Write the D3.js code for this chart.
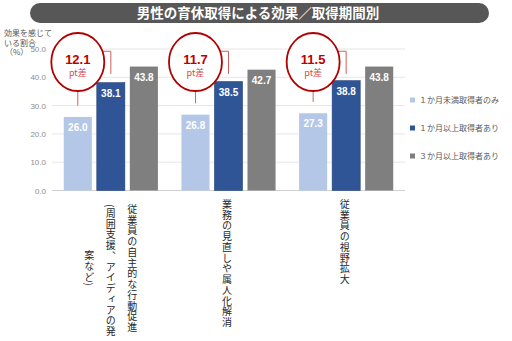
<!DOCTYPE html>
<html>
<head>
<meta charset="utf-8">
<script src="https://cdn.jsdelivr.net/npm/d3@7/dist/d3.min.js"></script>
<style>
  body { margin: 0; background: #fff; }
  svg { display: block; font-family: "Noto Sans CJK JP", sans-serif; }
</style>
</head>
<body>
<div id="chart"></div>
<script>
const title = "男性の育休取得による効果／取得期間別";
const categories = [
    ["従業員の自主的な行動促進", "(周囲支援、アイディアの発", "案など)"],
    ["業務の見直しや属人化解消"],
    ["従業員の視野拡大"]
];
const seriesNames = ["１か月未満取得者のみ", "１か月以上取得者あり", "３か月以上取得者あり"];
const under1m = [26.0, 26.8, 27.3];
const over1m  = [38.1, 38.5, 38.8];
const over3m  = [43.8, 42.7, 43.8];
const yTicks = [0, 10, 20, 30, 40, 50];

const colors = ["#b4c7e7", "#2f5597", "#7f7f7f"];
const seriesValues = [under1m, over1m, over3m];

const width = 512, height = 341;
const svg = d3.select("#chart").append("svg")
    .attr("width", width)
    .attr("height", height);

// タイトル帯
svg.append("rect")
    .attr("x", 30).attr("y", 3)
    .attr("width", 459).attr("height", 20)
    .attr("rx", 10).attr("ry", 10)
    .attr("fill", "#575757");
svg.append("text")
    .attr("x", 258).attr("y", 18)
    .attr("text-anchor", "middle")
    .attr("fill", "#fff")
    .attr("font-size", "13.5px")
    .attr("font-weight", 700)
    .text(title);

const x0 = d3.scaleBand()
    .domain(d3.range(categories.length))
    .range([52, 405])
    .paddingInner(0.2)
    .paddingOuter(0.1);

const x1 = d3.scaleBand()
    .domain(d3.range(seriesNames.length))
    .range([0, x0.bandwidth()])
    .paddingInner(0.15);

const y = d3.scaleLinear().domain([0, 50]).range([190.5, 49]);

// グリッド
svg.append("g")
    .selectAll("line")
    .data(yTicks)
    .join("line")
    .attr("x1", 52).attr("x2", 405)
    .attr("y1", d => y(d)).attr("y2", d => y(d))
    .attr("stroke", d => d === 0 ? "#d0d0d0" : "#e6e6e6")
    .attr("stroke-width", 1);

const yAxis = d3.axisLeft(y)
    .tickValues(yTicks)
    .tickFormat(d3.format(".1f"))
    .tickSize(0)
    .tickPadding(0);

svg.append("g")
    .attr("transform", "translate(46,0)")
    .call(yAxis)
    .call(g => g.select(".domain").remove())
    .selectAll("text")
    .attr("fill", "#8c8c8c")
    .attr("font-size", "8px")
    .attr("font-family", "Liberation Sans, sans-serif");

// 軸ラベル
const yLabel = svg.append("text")
    .attr("fill", "#595959")
    .attr("font-size", "8px");
[["効果を感じて", 4, 36], ["いる割合", 4, 45.5], ["（%）", 5, 55]].forEach(([t, tx, ty]) => {
    yLabel.append("tspan").attr("x", tx).attr("y", ty).text(t);
});

// 棒
const groups = svg.append("g")
    .selectAll("g")
    .data(categories)
    .join("g")
    .attr("transform", (d, i) => `translate(${x0(i)},0)`);

groups.selectAll("rect")
    .data((d, i) => seriesValues.map((s, k) => ({ k, v: s[i] })))
    .join("rect")
    .attr("x", d => x1(d.k))
    .attr("y", d => y(d.v))
    .attr("width", x1.bandwidth())
    .attr("height", d => y(0) - y(d.v))
    .attr("fill", d => colors[d.k])
    .attr("stroke", d => d.k === 1 ? "#24447a" : "none")
    .attr("stroke-width", 0.6);

groups.selectAll("text.val")
    .data((d, i) => seriesValues.map((s, k) => ({ k, v: s[i] })))
    .join("text")
    .attr("class", "val")
    .attr("x", d => x1(d.k) + x1.bandwidth() / 2)
    .attr("y", d => y(d.v) + 14)
    .attr("text-anchor", "middle")
    .attr("fill", "#fff")
    .attr("font-size", "10px")
    .attr("font-weight", 700)
    .attr("font-family", "Liberation Sans, Arial, sans-serif")
    .text(d => d3.format(".1f")(d.v));

// 差の注記
const red = "#c00000";
const ann = groups.append("g");
const cyVal = 45.4;
ann.each(function (d, i) {
    const g = d3.select(this);
    const cx = x1(0) + x1.bandwidth() / 2;
    const bx = x1(1) + x1.bandwidth() / 2;
    const cy = y(cyVal);
    const rx = 26.5, ry = 29;
    // 下への線
    g.append("line")
        .attr("x1", cx).attr("x2", cx)
        .attr("y1", cy + ry).attr("y2", y(under1m[i] + 4))
        .attr("stroke", "#d06060").attr("stroke-width", 1);
    // 括弧線
    g.append("path")
        .attr("d", `M${cx},${y(49.2)}H${bx}V${y(41.2)}`)
        .attr("fill", "none")
        .attr("stroke", "#d06060").attr("stroke-width", 1);
    g.append("ellipse")
        .attr("cx", cx).attr("cy", cy)
        .attr("rx", rx).attr("ry", ry)
        .attr("fill", "#fff")
        .attr("stroke", "#b00000")
        .attr("stroke-width", 1.8);
    g.append("text")
        .attr("x", cx).attr("y", cy + 1.5)
        .attr("text-anchor", "middle")
        .attr("fill", red)
        .attr("font-size", "13px")
        .attr("font-weight", 700)
        .attr("font-family", "Liberation Sans, Arial, sans-serif")
        .text(d3.format(".1f")(over1m[i] - under1m[i]));
    g.append("text")
        .attr("x", cx).attr("y", cy + 14)
        .attr("text-anchor", "middle")
        .attr("fill", "#d24a4a")
        .attr("font-size", "9px")
        .text("pt差");
});

// カテゴリ（縦書き）
const catFont = 10;
const pitch = 10.75;
groups.each(function (lines, i) {
    const g = d3.select(this);
    const cx = x0.bandwidth() / 2 + (lines.length > 1 ? 0 : -1.5);
    const gap = 21.5;
    const top = lines.length > 1 ? 204 : 199;
    let firstLen = null;
    lines.forEach((line, j) => {
        const lx = cx + ((lines.length - 1) / 2 - j) * gap;
        const t = g.append("text")
            .attr("x", lx)
            .attr("y", top)
            .attr("fill", "#262626")
            .attr("font-size", catFont + "px")
            .attr("letter-spacing", (pitch - catFont) + "px")
            .style("writing-mode", "vertical-rl")
            .text(line);
        const len = t.node().getComputedTextLength();
        if (firstLen === null) firstLen = len;
        t.attr("y", top + Math.max(0, (firstLen - len) / 2));
    });
});

// 凡例
const legend = svg.append("g")
    .selectAll("g")
    .data(seriesNames)
    .join("g")
    .attr("transform", (d, i) => `translate(410,${100 + i * 28})`);
legend.append("rect")
    .attr("x", 0).attr("y", -2.5)
    .attr("width", 5).attr("height", 5)
    .attr("fill", (d, i) => colors[i]);
legend.append("text")
    .attr("x", 9).attr("y", 3)
    .attr("fill", "#595959")
    .attr("font-size", "8px")
    .text(d => d);
</script>
</body>
</html>
